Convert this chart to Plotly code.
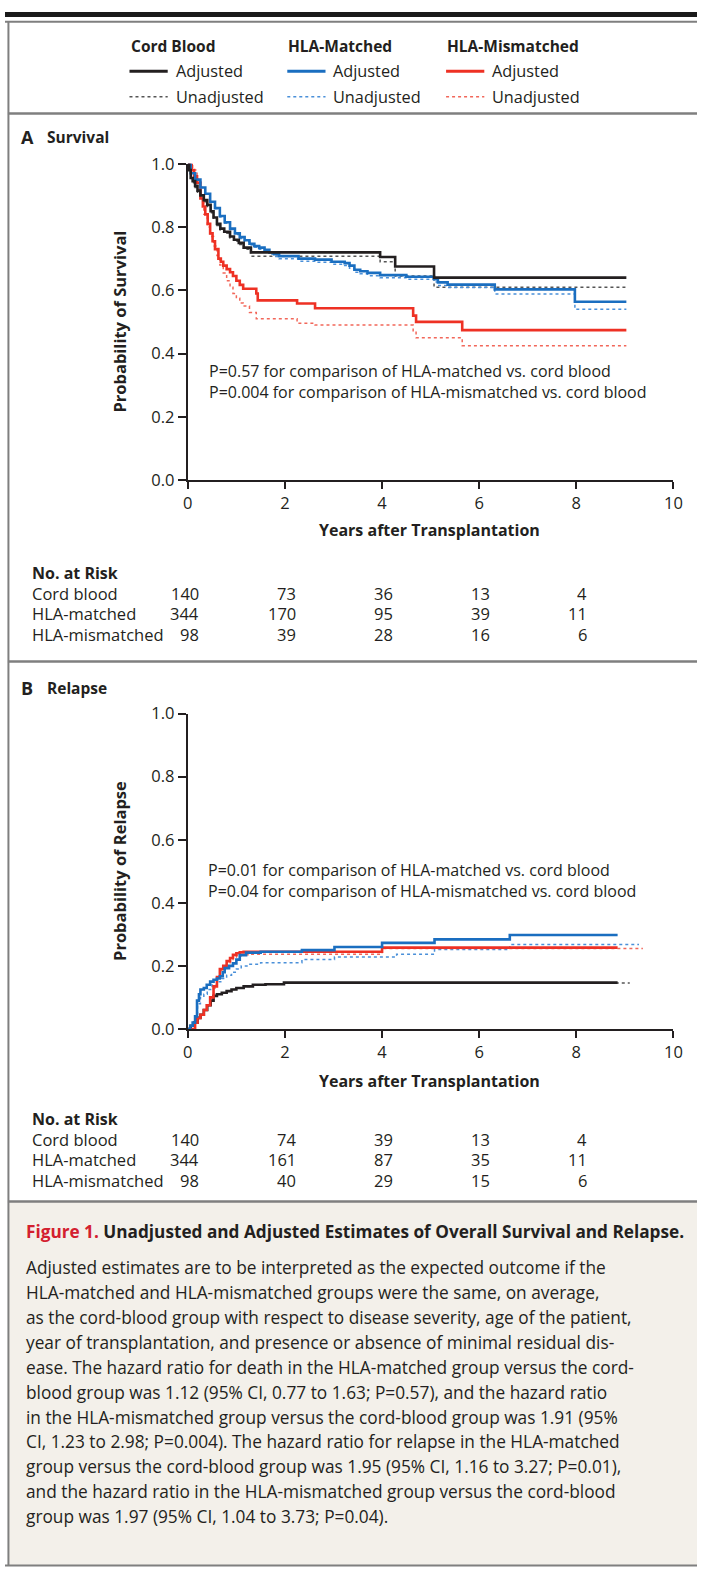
import plotly.graph_objects as go

W, H = 706, 1578
FONT = "Open Sans"
TXT = "#231f20"

# ---------------- data ----------------
groups = ["Cord blood", "HLA-matched", "HLA-mismatched"]
tick_years = [0, 2, 4, 6, 8]

# Panel A: survival (years, probability), step functions
surv_cb_adj_t = [0, 0.03, 0.06, 0.1, 0.15, 0.2, 0.26, 0.33, 0.4, 0.47, 0.53, 0.6, 0.67, 0.75, 0.87, 0.95, 1.05, 1.15, 1.3, 3.96, 4.27, 5.07, 9.03]
surv_cb_adj_s = [1.0, 0.98, 0.955, 0.945, 0.93, 0.915, 0.90, 0.885, 0.87, 0.85, 0.83, 0.81, 0.795, 0.785, 0.77, 0.76, 0.75, 0.735, 0.72, 0.705, 0.675, 0.64, 0.64]
surv_cb_un_t = [0, 0.03, 0.06, 0.1, 0.15, 0.2, 0.26, 0.33, 0.4, 0.47, 0.53, 0.6, 0.67, 0.75, 0.87, 0.95, 1.05, 1.15, 1.3, 3.96, 4.27, 5.07, 9.03]
surv_cb_un_s = [1.0, 0.98, 0.955, 0.94, 0.925, 0.91, 0.895, 0.88, 0.865, 0.845, 0.825, 0.805, 0.79, 0.78, 0.765, 0.755, 0.745, 0.73, 0.708, 0.69, 0.645, 0.61, 0.61]

surv_hm_adj_t = [0, 0.06, 0.15, 0.26, 0.36, 0.46, 0.56, 0.66, 0.76, 0.87, 0.97, 1.07, 1.17, 1.27, 1.37, 1.47, 1.58, 1.68, 1.78, 1.88, 2.28, 2.62, 2.96, 3.23, 3.33, 3.43, 3.55, 3.70, 3.96, 4.5, 5.07, 5.15, 5.35, 6.32, 7.97, 9.03]
surv_hm_adj_s = [1.0, 0.97, 0.95, 0.925, 0.905, 0.88, 0.86, 0.835, 0.815, 0.795, 0.78, 0.768, 0.758, 0.747, 0.74, 0.735, 0.728, 0.72, 0.714, 0.708, 0.70, 0.697, 0.69, 0.686, 0.678, 0.665, 0.66, 0.655, 0.648, 0.643, 0.635, 0.625, 0.618, 0.603, 0.564, 0.564]
surv_hm_un_t = [0, 0.06, 0.15, 0.26, 0.36, 0.46, 0.56, 0.66, 0.76, 0.87, 0.97, 1.07, 1.17, 1.27, 1.37, 1.47, 1.58, 1.68, 1.78, 1.88, 2.28, 2.62, 2.96, 3.23, 3.33, 3.43, 3.55, 3.70, 3.96, 4.5, 5.07, 5.15, 5.35, 6.32, 7.97, 9.03]
surv_hm_un_s = [1.0, 0.97, 0.95, 0.925, 0.905, 0.88, 0.858, 0.832, 0.812, 0.792, 0.776, 0.764, 0.754, 0.743, 0.736, 0.73, 0.722, 0.714, 0.707, 0.70, 0.692, 0.689, 0.682, 0.678, 0.67, 0.657, 0.652, 0.646, 0.64, 0.635, 0.626, 0.615, 0.609, 0.588, 0.54, 0.54]

surv_mm_adj_t = [0, 0.08, 0.13, 0.19, 0.26, 0.31, 0.36, 0.41, 0.46, 0.51, 0.56, 0.63, 0.68, 0.73, 0.8, 0.87, 0.93, 1.0, 1.07, 1.14, 1.41, 1.44, 2.25, 2.62, 4.64, 4.7, 5.65, 9.03]
surv_mm_adj_s = [1.0, 0.98, 0.96, 0.94, 0.89, 0.865, 0.84, 0.81, 0.78, 0.755, 0.73, 0.70, 0.69, 0.678, 0.667, 0.657, 0.645, 0.63, 0.617, 0.605, 0.59, 0.568, 0.558, 0.543, 0.52, 0.50, 0.474, 0.474]
surv_mm_un_t = [0, 0.1, 0.19, 0.26, 0.33, 0.4, 0.46, 0.53, 0.6, 0.66, 0.73, 0.8, 0.87, 0.93, 1.0, 1.07, 1.14, 1.27, 1.41, 2.25, 2.62, 4.64, 4.7, 5.65, 9.03]
surv_mm_un_s = [1.0, 0.98, 0.95, 0.89, 0.84, 0.80, 0.77, 0.74, 0.71, 0.68, 0.655, 0.63, 0.61, 0.59, 0.575, 0.56, 0.55, 0.53, 0.51, 0.496, 0.49, 0.47, 0.45, 0.425, 0.425]

# Panel B: cumulative incidence of relapse
rel_cb_adj_t = [0, 0.06, 0.13, 0.2, 0.26, 0.33, 0.4, 0.47, 0.53, 0.6, 0.7, 0.8, 0.9, 1.0, 1.15, 1.34, 1.6, 1.98, 8.85]
rel_cb_adj_c = [0, 0.01, 0.02, 0.035, 0.045, 0.06, 0.075, 0.09, 0.105, 0.11, 0.115, 0.12, 0.125, 0.13, 0.135, 0.14, 0.142, 0.147, 0.147]
rel_cb_un_t = [0, 0.06, 0.13, 0.2, 0.26, 0.33, 0.4, 0.47, 0.53, 0.6, 0.7, 0.8, 0.9, 1.0, 1.15, 1.34, 1.6, 1.98, 9.1]
rel_cb_un_c = [0, 0.01, 0.02, 0.035, 0.045, 0.06, 0.075, 0.09, 0.105, 0.11, 0.115, 0.12, 0.125, 0.13, 0.135, 0.14, 0.142, 0.146, 0.146]

rel_hm_adj_t = [0, 0.05, 0.1, 0.15, 0.19, 0.23, 0.26, 0.33, 0.39, 0.46, 0.53, 0.6, 0.66, 0.72, 0.76, 0.85, 0.93, 1.0, 1.07, 1.2, 1.5, 2.35, 3.02, 4.0, 5.08, 6.63, 8.85]
rel_hm_adj_c = [0, 0.01, 0.02, 0.04, 0.09, 0.11, 0.125, 0.13, 0.14, 0.15, 0.156, 0.16, 0.167, 0.18, 0.193, 0.2, 0.208, 0.22, 0.234, 0.242, 0.245, 0.25, 0.26, 0.273, 0.284, 0.298, 0.298]
rel_hm_un_t = [0, 0.05, 0.1, 0.15, 0.2, 0.26, 0.33, 0.4, 0.5, 0.6, 0.7, 0.8, 0.9, 1.0, 1.1, 1.25, 1.5, 2.35, 3.02, 4.3, 5.08, 6.63, 9.29]
rel_hm_un_c = [0, 0.01, 0.02, 0.04, 0.08, 0.1, 0.11, 0.125, 0.14, 0.15, 0.16, 0.17, 0.18, 0.19, 0.2, 0.205, 0.21, 0.22, 0.228, 0.237, 0.252, 0.268, 0.268]

rel_mm_adj_t = [0, 0.15, 0.2, 0.26, 0.33, 0.39, 0.46, 0.53, 0.6, 0.66, 0.73, 0.8, 0.87, 0.93, 1.0, 1.07, 1.15, 4.0, 8.85]
rel_mm_adj_c = [0, 0.02, 0.035, 0.045, 0.06, 0.075, 0.1, 0.135, 0.165, 0.19, 0.2, 0.215, 0.225, 0.235, 0.24, 0.243, 0.245, 0.258, 0.258]
rel_mm_un_t = [0, 0.15, 0.2, 0.26, 0.33, 0.39, 0.46, 0.53, 0.6, 0.66, 0.73, 0.8, 0.87, 0.93, 1.0, 1.1, 1.3, 4.0, 9.37]
rel_mm_un_c = [0, 0.02, 0.035, 0.045, 0.06, 0.075, 0.1, 0.13, 0.16, 0.185, 0.195, 0.21, 0.22, 0.228, 0.232, 0.235, 0.237, 0.255, 0.255]

# Number at risk
risk_surv_cb = [140, 73, 36, 13, 4]
risk_surv_hm = [344, 170, 95, 39, 11]
risk_surv_mm = [98, 39, 28, 16, 6]
risk_rel_cb = [140, 74, 39, 13, 4]
risk_rel_hm = [344, 161, 87, 35, 11]
risk_rel_mm = [98, 40, 29, 15, 6]

pvals_surv = ["P=0.57 for comparison of HLA-matched vs. cord blood",
              "P=0.004 for comparison of HLA-mismatched vs. cord blood"]
pvals_rel = ["P=0.01 for comparison of HLA-matched vs. cord blood",
             "P=0.04 for comparison of HLA-mismatched vs. cord blood"]

caption_title = "Unadjusted and Adjusted Estimates of Overall Survival and Relapse."
caption_lines = [
    "Adjusted estimates are to be interpreted as the expected outcome if the",
    "HLA-matched and HLA-mismatched groups were the same, on average,",
    "as the cord-blood group with respect to disease severity, age of the patient,",
    "year of transplantation, and presence or absence of minimal residual dis-",
    "ease. The hazard ratio for death in the HLA-matched group versus the cord-",
    "blood group was 1.12 (95% CI, 0.77 to 1.63; P=0.57), and the hazard ratio",
    "in the HLA-mismatched group versus the cord-blood group was 1.91 (95%",
    "CI, 1.23 to 2.98; P=0.004). The hazard ratio for relapse in the HLA-matched",
    "group versus the cord-blood group was 1.95 (95% CI, 1.16 to 3.27; P=0.01),",
    "and the hazard ratio in the HLA-mismatched group versus the cord-blood",
    "group was 1.97 (95% CI, 1.04 to 3.73; P=0.04).",
]

# ---------------- styles ----------------
C_BLACK, C_BLUE, C_RED = "#231f20", "#1a6ec0", "#ee3124"
C_BLACK_D, C_BLUE_D, C_RED_D = "#555555", "#4a90d9", "#f2675a"


def px(x):
    return x / W


def py(y):
    return 1 - y / H


fig = go.Figure()

def add_step(t, v, color, dotted, xa, ya):
    fig.add_trace(go.Scatter(
        x=t, y=v, mode="lines", line_shape="hv",
        line=dict(color=color, width=1.5 if dotted else 2.6, dash="dot" if dotted else "solid"),
        xaxis=xa, yaxis=ya, showlegend=False, hoverinfo="skip"))

# unadjusted first (underneath)
add_step(surv_cb_un_t, surv_cb_un_s, C_BLACK_D, True, "x", "y")
add_step(surv_hm_un_t, surv_hm_un_s, C_BLUE_D, True, "x", "y")
add_step(surv_mm_un_t, surv_mm_un_s, C_RED_D, True, "x", "y")
add_step(surv_mm_adj_t, surv_mm_adj_s, C_RED, False, "x", "y")
add_step(surv_hm_adj_t, surv_hm_adj_s, C_BLUE, False, "x", "y")
add_step(surv_cb_adj_t, surv_cb_adj_s, C_BLACK, False, "x", "y")

add_step(rel_cb_un_t, rel_cb_un_c, C_BLACK_D, True, "x2", "y2")
add_step(rel_hm_un_t, rel_hm_un_c, C_BLUE_D, True, "x2", "y2")
add_step(rel_mm_un_t, rel_mm_un_c, C_RED_D, True, "x2", "y2")
add_step(rel_cb_adj_t, rel_cb_adj_c, C_BLACK, False, "x2", "y2")
add_step(rel_mm_adj_t, rel_mm_adj_c, C_RED, False, "x2", "y2")
add_step(rel_hm_adj_t, rel_hm_adj_c, C_BLUE, False, "x2", "y2")

X0, X1 = 186.5, 682
A_TOP, A_BOT = 154, 475
B_TOP, B_BOT = 712, 1032

axis_common = dict(showgrid=False, zeroline=False, showline=True, linecolor=TXT, linewidth=2,
                   ticks="outside", tickcolor=TXT, tickwidth=2,
                   tickfont=dict(family=FONT, size=16.5, color=TXT))

xa = dict(axis_common, domain=[px(X0), px(X1)], range=[0, 10], tickvals=[0, 2, 4, 6, 8, 10], ticklen=7)
ya_ = dict(axis_common, range=[0, 1], tickvals=[0, 0.2, 0.4, 0.6, 0.8, 1.0], tickformat=".1f", ticklen=8)

fig.update_layout(
    width=W, height=H, autosize=False, margin=dict(l=0, r=0, t=0, b=0),
    paper_bgcolor="white", plot_bgcolor="rgba(0,0,0,0)",
    xaxis=dict(xa, anchor="y"),
    yaxis=dict(ya_, domain=[py(A_BOT), py(A_TOP)], anchor="x"),
    xaxis2=dict(xa, anchor="y2"),
    yaxis2=dict(ya_, domain=[py(B_BOT), py(B_TOP)], anchor="x2"),
)

shapes = []
annots = []

def line(x0, y0, x1, y1, color, width, dash="solid"):
    shapes.append(dict(type="line", xref="paper", yref="paper", x0=px(x0), y0=py(y0), x1=px(x1), y1=py(y1),
                       line=dict(color=color, width=width, dash=dash), layer="below"))

def text(x, y, s, size=16, bold=False, anchor="left", color=TXT, angle=0):
    annots.append(dict(xref="paper", yref="paper", x=px(x), y=py(y), text=("<b>%s</b>" % s) if bold else s,
                       showarrow=False, xanchor=anchor, yanchor="middle", textangle=angle, align="left",
                       font=dict(family=FONT, size=size, color=color)))

# caption background
shapes.append(dict(type="rect", xref="paper", yref="paper", x0=px(3.5), y0=py(1576), x1=1, y1=py(1207),
                   fillcolor="#f3f0ea", line=dict(width=0), layer="below"))
# top black bar
shapes.append(dict(type="rect", xref="paper", yref="paper", x0=0, y0=py(5), x1=1, y1=1,
                   fillcolor="#1a1a1a", line=dict(width=0), layer="below"))
GRAY = "#7f7f7f"
line(0, 10, 706, 10, GRAY, 2)
line(3.5, 10, 3.5, 1576, GRAY, 2)
line(0, 1576.5, 706, 1576.5, GRAY, 2)
line(3, 103, 706, 103, GRAY, 2.5)
line(3, 659, 706, 659, GRAY, 2.5)
line(3, 1207, 706, 1207, GRAY, 2.5)

# legend
leg_x = [127, 288, 450]
leg_names = ["Cord Blood", "HLA-Matched", "HLA-Mismatched"]
leg_cols = [(C_BLACK, C_BLACK_D), (C_BLUE, C_BLUE_D), (C_RED, C_RED_D)]
for lx, nm, (ca, cu) in zip(leg_x, leg_names, leg_cols):
    text(lx - 1, 34, nm, size=15.5, bold=True)
    line(lx, 60, lx + 39, 60, ca, 3)
    line(lx, 86, lx + 39, 86, cu, 1.5, "dot")
    text(lx + 45, 60, "Adjusted", size=16.3)
    text(lx + 45, 86, "Unadjusted", size=16.3)

# panel labels
text(14, 127, "A", size=18, bold=True)
text(41, 127, "Survival", size=15.5, bold=True)
text(14, 686, "B", size=18, bold=True)
text(41, 686, "Relapse", size=15.5, bold=True)

# axis titles
text((X0 + X1) / 2 - 1, 526, "Years after Transplantation", size=16, bold=True, anchor="center")
text((X0 + X1) / 2 - 1, 1085, "Years after Transplantation", size=16, bold=True, anchor="center")
text(117, (A_TOP + A_BOT) / 2, "Probability of Survival", size=16.5, bold=True, anchor="center", angle=-90)
text(117, (B_TOP + B_BOT) / 2, "Probability of Relapse", size=16.5, bold=True, anchor="center", angle=-90)

# p-values (two lines in one text block)
text(206, 375, "<br>".join(pvals_surv), size=16)
text(205, 881, "<br>".join(pvals_rel), size=16)

# number at risk tables
def risk_table(y0, rows, xref):
    text(25, y0, "No. at Risk", size=16, bold=True)
    for i, (g, vals) in enumerate(zip(groups, rows)):
        yy = y0 + 20.9 * (i + 1)
        text(25, yy, g, size=16.5)
        for t, v in zip(tick_years, vals):
            annots.append(dict(xref=xref, yref="paper", x=t, y=py(yy), text=str(v), showarrow=False,
                               xanchor="right", yanchor="middle", xshift=13,
                               font=dict(family=FONT, size=16.5, color=TXT)))

risk_table(569, [risk_surv_cb, risk_surv_hm, risk_surv_mm], "x")
risk_table(1123, [risk_rel_cb, risk_rel_hm, risk_rel_mm], "x2")

# caption
annots.append(dict(xref="paper", yref="paper", x=px(19), y=py(1238), showarrow=False, xanchor="left", yanchor="middle",
                   text="<b><span style='color:#d3202f'>Figure 1.</span> " + caption_title + "</b>",
                   font=dict(family=FONT, size=17.2, color=TXT)))
for i, ln in enumerate(caption_lines):
    text(19, 1274 + 25.3 * i, ln, size=17.3)

fig.update_layout(shapes=shapes, annotations=annots)
fig.write_html(
    "out.html",
    config={"displayModeBar": False},
    post_script="document.body.style.margin='0px';",
)
